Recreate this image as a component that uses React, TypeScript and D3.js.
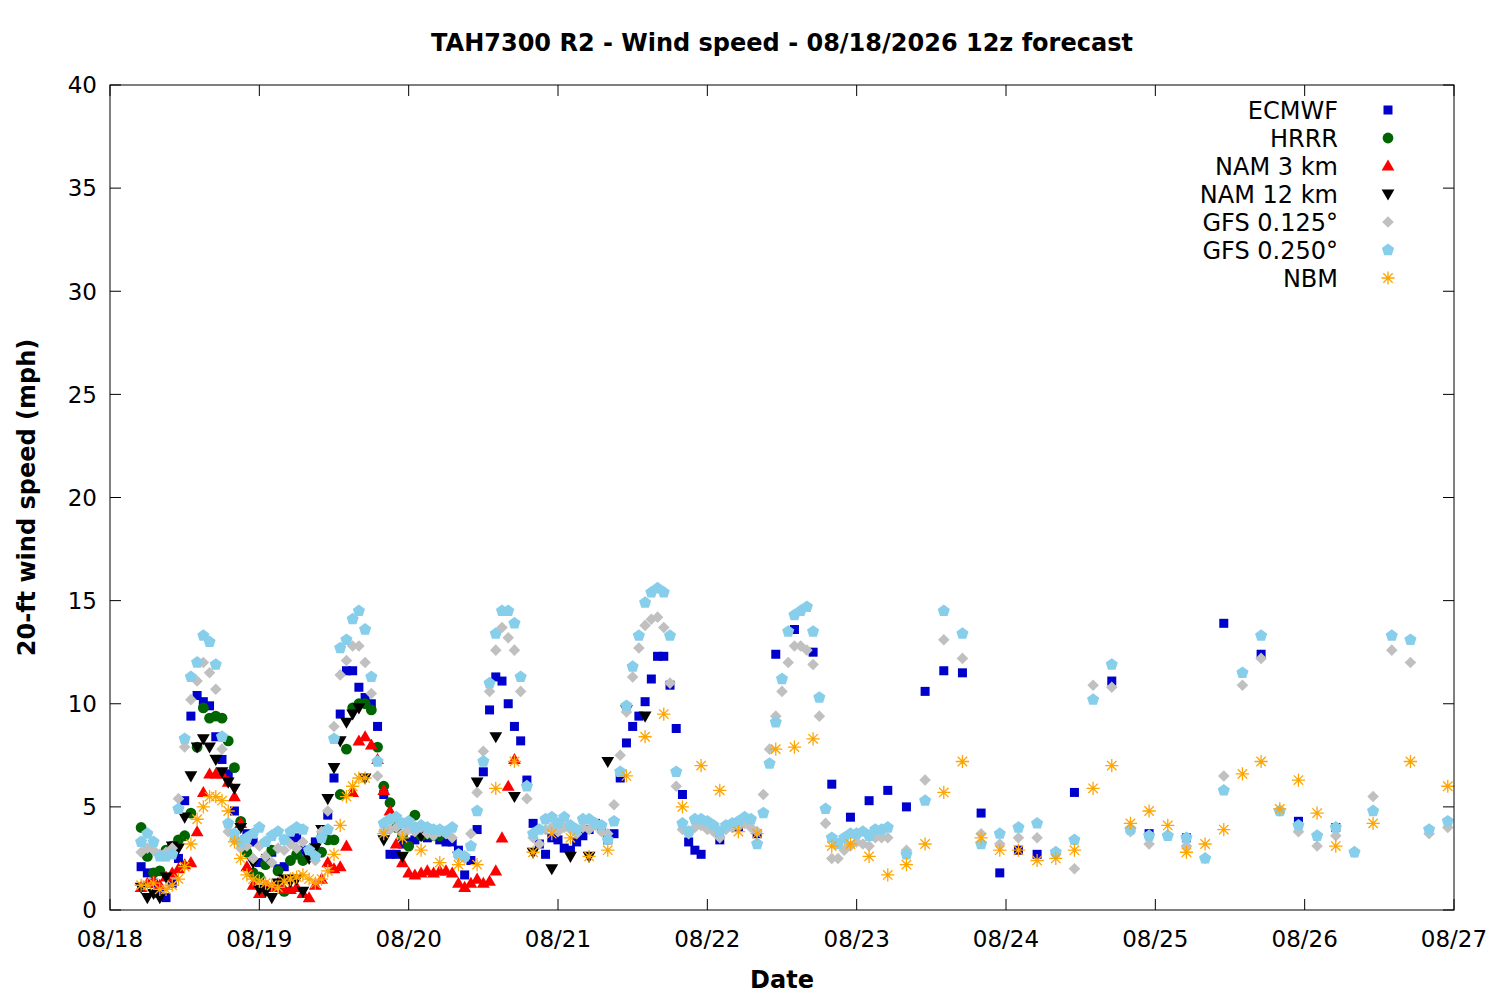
import React from 'react';
import * as d3 from 'd3';

// plot frame, in page pixels
const W = 1500;
const H = 1000;
const M = { left: 110, right: 1454, top: 85, bottom: 910 };

const TITLE = 'TAH7300 R2 - Wind speed - 08/18/2026 12z forecast';
const X_LABEL = 'Date';
const Y_LABEL = '20-ft wind speed (mph)';
const Y_TICKS = [0, 5, 10, 15, 20, 25, 30, 35, 40];

// hours after 08/18 00:00 (local); first valid time is hour 5
const ecmwfHourly = [
  2.1, 1.8, 1.3, 0.8, 0.6, 1.3, 2.5, 5.3, 9.4, 10.4, 10.1, 9.9, 8.4, 7.3, 6.6, 4.8, 4.2, 3.7, 3.3, 2.3,
  2.5, 2.8, 2.0, 2.1, 3.4, 3.5, 2.9, 2.6, 3.3, 3.5, 4.6, 6.4, 9.5, 11.6, 11.6, 10.8, 10.3, 10.0, 8.9, 5.6,
  2.7, 2.7, 3.2, 3.3, 3.4, 3.6, 3.5, 3.6, 3.4, 3.3, 3.3, 2.9, 1.7, 2.4, 3.9, 6.7, 9.7, 11.3, 11.1, 10.0,
  8.9, 8.2, 6.3, 4.2, 3.2, 2.7, 3.5, 3.4, 3.0, 2.9, 3.3, 3.6, 3.9, 4.2, 4.0, 3.4, 3.7, 6.4, 8.1, 8.9,
  9.4, 10.1, 11.2, 12.3, 12.3, 10.9, 8.8, 5.6, 3.3, 2.9, 2.7,
];
const ecmwf3h = [3.4, 4.0, 3.7, 12.4, 13.6, 12.5, 6.1, 4.5, 5.3, 5.8, 5.0, 10.6, 11.6, 11.5, 4.7, 1.8, 2.9, 2.7];
const ecmwf6h = [5.7, 11.1, 3.7, 3.5, 13.9, 12.4, 4.3, 4.0];

const hrrrHourly = [
  4.0, 2.6, 1.8, 1.9, 2.9, 3.1, 3.4, 3.6, 4.7, 7.9, 9.8, 9.3, 9.4, 9.3, 8.2, 6.9, 4.3, 2.8, 1.8, 1.6,
  2.2, 2.9, 1.9, 0.9, 2.4, 2.7, 2.4, 2.6, 2.9, 2.8, 3.4, 3.4, 5.6, 7.8, 9.8, 10.0, 10.0, 9.7, 7.9, 6.0,
  5.2, 4.0, 3.6, 3.1, 4.6, 3.6, 3.7, 3.6, 3.6,
];

const nam3Hourly = [
  1.1, 1.3, 1.4, 1.2, 1.6, 1.8, 2.0, 2.2, 2.3, 3.8, 5.7, 6.6, 6.6, 6.6, 6.2, 5.5, 4.2, 2.1, 1.2, 0.8,
  1.2, 1.1, 1.3, 1.0, 1.0, 1.1, 0.8, 0.6, 1.2, 1.5, 2.3, 2.0, 2.1, 3.1, 5.7, 8.2, 8.4, 8.0, 7.3, 5.8,
  4.8, 3.2, 2.3, 1.8, 1.7, 1.8, 1.9, 1.8, 1.9, 1.9, 1.8, 1.3, 1.1, 1.3, 1.5, 1.3, 1.4, 1.9, 3.5, 6.0,
  7.3,
];

const nam12Hourly = [
  1.1, 0.6, 0.8, 0.6, 1.6, 3.1, 3.0, 4.5, 6.5, 7.9, 8.3, 7.9, 7.3, 6.7, 6.2, 5.9, 4.0, 3.4, 2.3, 1.0,
  0.9, 0.6, 1.3, 1.5, 1.4, 1.5, 0.9, 2.5, 3.0, 3.9, 5.4, 6.9, 8.2, 9.1, 9.5, 9.8, 6.4,
];
const nam12_3h = [3.4, 2.6, 3.6, 3.8, 2.6, 6.2, 8.4, 5.5, 2.8, 2.0, 2.6, 2.6, 7.2, 9.7, 9.4];

const gfs0125Hourly = [
  2.8, 3.0, 2.9, 2.7, 2.8, 3.0, 5.4, 7.9, 10.2, 11.1, 12.0, 11.5, 10.7, 7.8, 3.8, 3.4, 3.0, 3.1, 2.5, 3.1,
  2.6, 2.3, 3.0, 2.9, 3.2, 3.0, 3.3, 2.9, 2.4, 3.8, 4.8, 8.9, 11.4, 12.1, 12.8, 12.8, 12.0, 10.5, 6.5, 3.8,
  3.9, 4.0, 3.7, 3.9, 3.8, 4.0, 3.7, 3.6, 3.8, 3.7, 3.5, 2.6, 2.5, 3.7, 5.7, 7.7, 10.6, 12.6, 13.7, 13.2,
  12.6, 10.6, 5.4, 3.5, 3.2, 3.9, 4.0, 3.8, 4.0, 3.9, 3.7, 4.0, 3.9, 4.1, 3.8, 3.7, 5.1, 7.5, 9.6, 11.3,
  12.7, 13.8, 14.1, 14.2, 13.7, 11.0, 6.0, 3.9, 3.7, 4.0, 4.1, 3.9, 3.8, 3.5, 3.9, 4.0, 4.1, 4.2, 4.0, 3.8,
  5.6, 7.8, 9.4, 10.6, 12.0, 12.8, 12.8, 12.6, 11.9, 9.4, 4.2, 2.5, 2.5, 2.9, 3.1, 3.3, 3.2, 3.1, 3.5, 3.5,
  3.5,
];
const gfs0125_3h = [
  2.9, 6.3, 13.1, 12.2, 3.7, 3.2, 3.5, 3.5, 2.7, 2.0, 10.9, 10.8, 3.8, 3.2, 3.6, 3.1, 2.5, 6.5, 10.9, 12.2,
  4.8, 3.8, 3.1, 3.6, 2.8, 5.5, 12.6, 12.0, 3.7, 4.0,
];

const gfs0250Hourly = [
  3.3, 3.7, 3.3, 2.6, 2.6, 2.7, 4.9, 8.3, 11.3, 12.0, 13.3, 13.0, 11.9, 8.4, 4.2, 3.7, 3.3, 3.5, 3.7, 4.0,
  3.3, 3.6, 3.8, 3.4, 3.8, 4.0, 3.9, 2.9, 2.6, 3.5, 3.9, 8.3, 12.7, 13.1, 14.1, 14.5, 13.6, 11.3, 7.2, 4.2,
  4.4, 4.5, 4.2, 4.3, 4.0, 4.1, 4.0, 3.9, 3.9, 3.8, 4.0, 2.7, 2.6, 3.1, 4.8, 7.2, 11.0, 13.4, 14.5, 14.5,
  13.9, 11.3, 6.0, 3.7, 3.9, 4.4, 4.5, 4.2, 4.5, 4.1, 3.9, 4.4, 4.4, 4.2, 4.1, 3.4, 4.3, 6.7, 9.9, 11.8,
  13.3, 14.9, 15.4, 15.6, 15.4, 13.3, 6.7, 4.2, 3.8, 4.4, 4.4, 4.3, 4.1, 3.8, 4.1, 4.2, 4.3, 4.5, 4.4, 3.2,
  4.7, 7.1, 9.1, 11.2, 13.5, 14.3, 14.5, 14.7, 13.5, 10.3, 4.9, 3.5, 3.2, 3.5, 3.7, 3.7, 3.8, 3.6, 3.9, 3.9,
  4.0,
];
const gfs0250_3h = [
  2.7, 5.3, 14.5, 13.4, 3.2, 3.7, 4.0, 4.2, 2.8, 3.4, 10.2, 11.9, 3.9, 3.6, 3.6, 3.5, 2.5, 5.8, 11.5, 13.3,
  4.8, 4.1, 3.6, 4.0, 2.8, 4.8, 13.3, 13.1, 3.9, 4.3,
];

const nbmHourly = [
  1.2, 1.2, 1.3, 1.0, 1.0, 1.2, 1.5, 2.1, 3.2, 4.4, 5.0, 5.5, 5.5, 5.3, 4.8, 3.3, 2.5, 1.7, 1.5, 1.4,
  1.3, 1.2, 1.1, 1.4, 1.5, 1.6, 1.7, 1.5, 1.3, 1.5, 1.9, 2.7, 4.1, 5.5, 6.0, 6.4, 6.4,
];
const nbm3h = [
  3.7, 3.5, 2.9, 2.3, 2.2, 2.2, 5.9, 7.2, 2.8, 3.7, 3.5, 2.6, 2.9, 6.5, 8.4, 9.5, 5.0, 7.0, 5.8, 3.8,
  3.7, 7.8, 7.9, 8.3, 3.1, 3.2, 2.6, 1.7, 2.2, 3.2, 5.7, 7.2, 3.5, 2.9, 2.9, 2.4, 2.5, 2.9, 5.9, 7.0,
  4.2, 4.8, 4.1, 2.8, 3.2, 3.9, 6.6, 7.2, 4.9, 6.3, 4.7, 3.1,
];
const nbm6h = [4.2, 7.2, 6.0];

type Seg = { start: number; step: number; values: number[] };
type Series = { name: string; color: string; marker: string; segs: Seg[] };

const series: Series[] = [
  { name: 'ECMWF', color: '#0000cd', marker: 'square', segs: [
    { start: 5, step: 1, values: ecmwfHourly },
    { start: 98, step: 3, values: ecmwf3h },
    { start: 155, step: 6, values: ecmwf6h },
  ] },
  { name: 'HRRR', color: '#006400', marker: 'circle', segs: [{ start: 5, step: 1, values: hrrrHourly }] },
  { name: 'NAM 3 km', color: '#ff0000', marker: 'triUp', segs: [{ start: 5, step: 1, values: nam3Hourly }] },
  { name: 'NAM 12 km', color: '#000000', marker: 'triDown', segs: [
    { start: 5, step: 1, values: nam12Hourly },
    { start: 44, step: 3, values: nam12_3h },
  ] },
  { name: 'GFS 0.125°', color: '#c0c0c0', marker: 'diamond', segs: [
    { start: 5, step: 1, values: gfs0125Hourly },
    { start: 128, step: 3, values: gfs0125_3h },
  ] },
  { name: 'GFS 0.250°', color: '#87ceeb', marker: 'pentagon', segs: [
    { start: 5, step: 1, values: gfs0250Hourly },
    { start: 128, step: 3, values: gfs0250_3h },
  ] },
  { name: 'NBM', color: '#ffa500', marker: 'star', segs: [
    { start: 5, step: 1, values: nbmHourly },
    { start: 44, step: 3, values: nbm3h },
    { start: 203, step: 6, values: nbm6h },
  ] },
];

const t0 = new Date(2026, 7, 18);
const x = d3.scaleTime().domain([t0, new Date(2026, 7, 27)]).range([M.left, M.right]);
const y = d3.scaleLinear().domain([0, 40]).range([M.bottom, M.top]);
const fmt = d3.timeFormat('%m/%d');

const pentagon = d3.range(5).map((k) => {
  const a = -Math.PI / 2 + (k * 2 * Math.PI) / 5;
  return [6.4 * Math.cos(a), 6.4 * Math.sin(a)];
});
const pentPath = 'M' + pentagon.map((p) => p.join(',')).join('L') + 'Z';

function Marker({ kind, color, cx, cy }: { kind: string; color: string; cx: number; cy: number }) {
  const tr = `translate(${cx},${cy})`;
  switch (kind) {
    case 'square':
      return <rect x={cx - 4.5} y={cy - 4.5} width={9} height={9} fill={color} />;
    case 'circle':
      return <circle cx={cx} cy={cy} r={5.4} fill={color} />;
    case 'triUp':
      return <path transform={tr} d="M0,-6.5L6.4,4.6L-6.4,4.6Z" fill={color} />;
    case 'triDown':
      return <path transform={tr} d="M0,6.5L6.4,-4.6L-6.4,-4.6Z" fill={color} />;
    case 'diamond':
      return <path transform={tr} d="M0,-5.8L5.8,0L0,5.8L-5.8,0Z" fill={color} />;
    case 'pentagon':
      return <path transform={tr} d={pentPath} fill={color} />;
    default:
      return (
        <path
          transform={tr}
          d="M-6.6,0H6.6M0,-6.6V6.6M-4.7,-4.7L4.7,4.7M-4.7,4.7L4.7,-4.7"
          stroke={color}
          strokeWidth={1.3}
          fill="none"
        />
      );
  }
}

export default function App() {
  const font = 'DejaVu Sans, sans-serif';
  const xTicks = x.ticks(d3.timeDay.every(1)!);
  const tickLen = 11;

  return (
    <svg
      width={W}
      height={H}
      style={{ position: 'absolute', left: 0, top: 0, background: '#fff' }}
      fontFamily={font}
    >
      <rect x={0} y={0} width={W} height={H} fill="#fff" />

      <text x={(M.left + M.right) / 2} y={51} textAnchor="middle" fontSize={24} fontWeight="bold">
        {TITLE}
      </text>

      {/* data */}
      {series.map((s) =>
        s.segs.flatMap((seg, j) =>
          seg.values.map((v, i) => {
            const t = d3.timeHour.offset(t0, seg.start + i * seg.step);
            return <Marker key={`${s.name}-${j}-${i}`} kind={s.marker} color={s.color} cx={x(t)} cy={y(v)} />;
          }),
        ),
      )}

      {/* frame and ticks */}
      <rect
        x={M.left}
        y={M.top}
        width={M.right - M.left}
        height={M.bottom - M.top}
        fill="none"
        stroke="#000"
        strokeWidth={1}
      />
      {Y_TICKS.map((v) => (
        <g key={'y' + v}>
          <line x1={M.left} x2={M.left + tickLen} y1={y(v)} y2={y(v)} stroke="#000" />
          <line x1={M.right} x2={M.right - tickLen} y1={y(v)} y2={y(v)} stroke="#000" />
          <text x={97} y={y(v)} dy="0.36em" textAnchor="end" fontSize={23}>
            {v}
          </text>
        </g>
      ))}
      {xTicks.map((t) => (
        <g key={'x' + +t}>
          <line x1={x(t)} x2={x(t)} y1={M.bottom} y2={M.bottom - tickLen} stroke="#000" />
          <line x1={x(t)} x2={x(t)} y1={M.top} y2={M.top + tickLen} stroke="#000" />
          <text x={x(t)} y={947} textAnchor="middle" fontSize={23}>
            {fmt(t)}
          </text>
        </g>
      ))}

      <text x={(M.left + M.right) / 2} y={988} textAnchor="middle" fontSize={24} fontWeight="bold">
        {X_LABEL}
      </text>
      <text
        transform={`translate(35,${(M.top + M.bottom) / 2}) rotate(-90)`}
        textAnchor="middle"
        fontSize={24}
        fontWeight="bold"
      >
        {Y_LABEL}
      </text>

      {/* legend */}
      {series.map((s, i) => (
        <g key={'leg' + s.name}>
          <text x={1338} y={110 + i * 28} dy="0.36em" textAnchor="end" fontSize={24}>
            {s.name}
          </text>
          <Marker kind={s.marker} color={s.color} cx={1388} cy={110 + i * 28} />
        </g>
      ))}
    </svg>
  );
}
